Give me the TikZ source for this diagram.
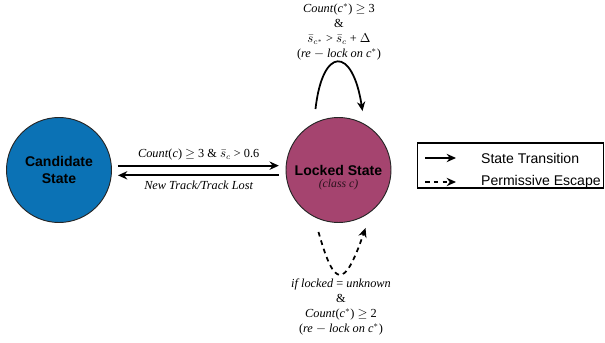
\documentclass[tikz,border=0pt]{standalone}
\usepackage{amsmath,amssymb}
\usepackage{fontspec}
\setmainfont{Liberation Serif}
\setsansfont{Liberation Sans}
\usepackage{tikz}
\usetikzlibrary{arrows.meta,positioning,calc}
\definecolor{candblue}{RGB}{11,114,181}
\definecolor{lockplum}{RGB}{165,68,111}
\newcommand{\cstar}{\textit{c}$^{*}$}

\begin{document}
\begin{tikzpicture}[
  x=0.03cm,y=-0.03cm,
  state/.style={circle,draw=black!85,line width=0.8pt,minimum size=3.15cm,
                inner sep=0pt,align=center,
                font=\sffamily\bfseries\fontsize{12}{15}\selectfont},
  cand/.style={state,fill=candblue},
  lock/.style={state,fill=lockplum},
  clsnote/.style={font=\itshape\fontsize{10}{11}\selectfont,text=black!75!lockplum},
  trans/.style={->,line width=1.5pt},
  escape/.style={trans,dash pattern=on 4pt off 3.5pt},
  cond/.style={align=center,font=\fontsize{10.5}{12.8}\selectfont},
  legtext/.style={anchor=west,font=\sffamily\fontsize{12}{14}\selectfont},
  >={Stealth[length=2.8mm,width=2.5mm]}
]
\useasboundingbox (0,0) rectangle (605,343);

\node[cand] (cand) at (59,170) {Candidate\\State};
\node[lock] (lock) at (338.5,170) {Locked State};
\node[clsnote] (lockcls) at (338.5,185) {(class \textit{c})};

\draw[trans,shorten <=0.18cm,shorten >=0.2cm] ([yshift=0.13cm]cand.east)
  -- node[above=1pt,cond] {\textit{Count}(\textit{c}) $\geq$ 3 \& $\bar{s}_c$ > 0.6} ([yshift=0.13cm]lock.west);
\draw[trans,shorten <=0.2cm,shorten >=0.18cm] ([yshift=-0.16cm]lock.west)
  -- node[below=1pt,cond] {\textit{New Track/Track Lost}} ([yshift=-0.16cm]cand.east);

% re-lock loops
\draw[trans] ([shift={(-23,-8)}]lock.north)
  .. controls ([shift={(-16,-71)}]lock.north) and ([shift={(14,-71)}]lock.north)
  .. ([shift={(24,-6)}]lock.north);
\node[cond] (topcond) at (339,32)
  {\textit{Count}(\cstar) $\geq$ 3\\\&\\$\bar{s}_{c^{*}}$ > $\bar{s}_{c}$ + $\Delta$\\(\textit{re} $-$ \textit{lock on} \cstar)};

\draw[escape] ([shift={(-20,9)}]lock.south)
  .. controls ([shift={(-4,66)}]lock.south) and ([shift={(6,66)}]lock.south)
  .. ([shift={(27,5)}]lock.south);
\node[cond] (botcond) at (341,307)
  {\textit{if locked} = \textit{unknown}\\\&\\\textit{Count}(\cstar) $\geq$ 2\\(\textit{re} $-$ \textit{lock on} \cstar)};

% legend
\node[draw,line width=1pt,minimum width=5.6cm,minimum height=1.35cm] (legend) at (510.5,165.5) {};
\coordinate (solA) at (425,158);
\coordinate (solB) at (456,158);
\coordinate (dasA) at (425,182);
\coordinate (dasB) at (456,182);
\draw[trans] (solA) -- (solB);
\draw[escape] (dasA) -- (dasB);
\node[legtext] (soltxt) at (477,158) {State Transition};
\node[legtext] (dastxt) at (477,182) {Permissive Escape};
\end{tikzpicture}
\end{document}
